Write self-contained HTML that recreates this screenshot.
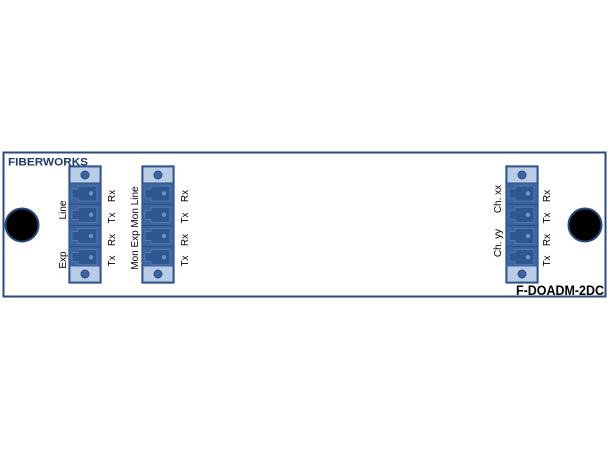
<!DOCTYPE html>
<html><head><meta charset="utf-8"><style>
html,body{margin:0;padding:0;background:#fff}
svg{display:block}
text{font-family:"Liberation Sans",sans-serif}
</style></head><body>
<svg width="610" height="450" viewBox="0 0 610 450" xmlns="http://www.w3.org/2000/svg">
<defs>
<g id="port">
<rect x="0" y="0" width="32" height="21.25" fill="#3b64a0" stroke="#2a4a80" stroke-width="0.8"/>
<path d="M9 3 H28 V18 H9 V15 H3 V6 H9 Z" fill="#30568f" stroke="#5c80b6" stroke-width="0.8"/>
<circle cx="22" cy="10.5" r="2.2" fill="#6d93cc"/>
</g>
<g id="mod">
<rect x="0" y="0" width="32" height="117" fill="#3b64a0" stroke="#2a4a80" stroke-width="1.2"/>
<rect x="1.5" y="1.5" width="29" height="15" fill="#b9cde6"/>
<circle cx="16" cy="9" r="4" fill="#3b64a0" stroke="#2a4a80" stroke-width="1"/>
<use href="#port" y="17"/>
<use href="#port" y="38.25"/>
<use href="#port" y="59.5"/>
<use href="#port" y="80.75"/>
<rect x="1.5" y="100.5" width="29" height="15" fill="#b9cde6"/>
<circle cx="16" cy="108" r="4" fill="#3b64a0" stroke="#2a4a80" stroke-width="1"/>
</g>
</defs>
<rect x="3.5" y="152.5" width="602" height="144" fill="#fff" stroke="#2a4a7c" stroke-width="2"/>
<text x="8" y="165.5" font-size="11" font-weight="bold" fill="#1f3a68" textLength="80" lengthAdjust="spacingAndGlyphs">FIBERWORKS</text>
<circle cx="22" cy="225" r="16.5" fill="#000" stroke="#2a4a7c" stroke-width="2"/>
<circle cx="585" cy="225" r="16.5" fill="#000" stroke="#2a4a7c" stroke-width="2"/>
<use href="#mod" x="69" y="166"/>
<use href="#mod" x="142" y="166"/>
<use href="#mod" x="506" y="166"/>
<g font-size="10" fill="#000" text-anchor="middle">
<text transform="translate(66,210) rotate(-90)">Line</text>
<text transform="translate(66,260) rotate(-90)">Exp</text>
<text transform="translate(115,196) rotate(-90)">Rx</text>
<text transform="translate(115,218) rotate(-90)">Tx</text>
<text transform="translate(115,240) rotate(-90)">Rx</text>
<text transform="translate(115,261) rotate(-90)">Tx</text>
<text transform="translate(138,207) rotate(-90)">Mon Line</text>
<text transform="translate(138,250) rotate(-90)">Mon Exp</text>
<text transform="translate(188,196) rotate(-90)">Rx</text>
<text transform="translate(188,218) rotate(-90)">Tx</text>
<text transform="translate(188,240) rotate(-90)">Rx</text>
<text transform="translate(188,261) rotate(-90)">Tx</text>
<text transform="translate(501,199) rotate(-90)">Ch. xx</text>
<text transform="translate(501,243) rotate(-90)">Ch. yy</text>
<text transform="translate(550,196) rotate(-90)">Rx</text>
<text transform="translate(550,218) rotate(-90)">Tx</text>
<text transform="translate(550,240) rotate(-90)">Rx</text>
<text transform="translate(550,261) rotate(-90)">Tx</text>
</g>
<text x="516" y="295" font-size="14" font-weight="bold" fill="#000" textLength="88" lengthAdjust="spacingAndGlyphs">F-DOADM-2DC</text>
</svg>
</body></html>
